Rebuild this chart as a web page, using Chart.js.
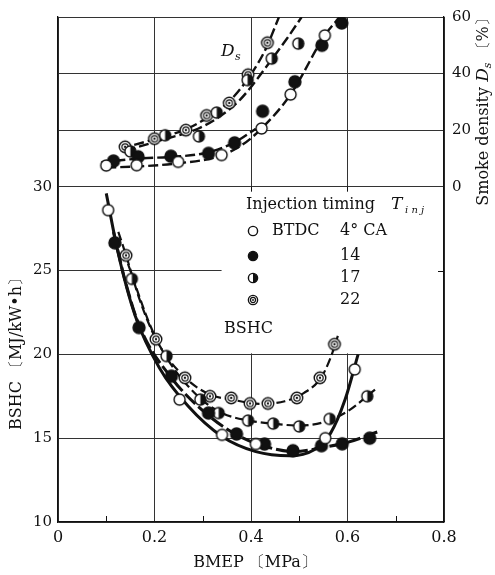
<!DOCTYPE html>
<html lang="en">
<head>
<meta charset="UTF-8">
<title>BSHC and smoke density vs BMEP</title>
<script src="https://cdn.jsdelivr.net/npm/chart.js"></script>
<style>
  body { margin: 0; background: #fff; }
  #wrap { width: 495px; height: 575px; position: relative; }
</style>
</head>
<body>
<div id="wrap"><canvas id="chart"></canvas></div>
<script>
// axis ticks
const xTicks = [0, 0.2, 0.4, 0.6, 0.8];
const bshcTicks = [10, 15, 20, 25, 30];
const smokeTicks = [0, 20, 40, 60];
const minorX = [0.1, 0.3, 0.5, 0.7];

// injection timing (BTDC, deg CA)
const timings = ['4', '14', '17', '22'];

// smoke density Ds [%] : measured points [BMEP, Ds]
const smoke4  = [[0.10,7.5],[0.163,7.6],[0.249,8.8],[0.339,11.2],[0.422,20.6],[0.482,32.6],[0.553,53.5]];
const smoke14 = [[0.115,9.1],[0.166,10.6],[0.234,10.8],[0.312,11.8],[0.366,15.5],[0.424,26.7],[0.491,37.1],[0.547,50.0],[0.588,57.9]];
const smoke17 = [[0.15,12.5],[0.222,18.2],[0.292,17.8],[0.329,26.2],[0.393,37.7],[0.443,45.3],[0.498,50.6]];
const smoke22 = [[0.139,14.1],[0.200,17.0],[0.265,20.0],[0.308,25.2],[0.355,29.6],[0.394,39.6],[0.434,50.9]];

// smoke density : hand-drawn trend curves
const smokeFit4  = [[0.10,6.8],[0.17,7.2],[0.25,8.3],[0.33,10.6],[0.38,14.6],[0.422,20.6],[0.482,32.6],[0.553,53.5],[0.584,60]];
const smokeFit14 = [[0.09,8.7],[0.17,10.0],[0.24,10.6],[0.31,12.1],[0.365,15.6],[0.41,20.5]];
const smokeFit17 = [[0.14,12.8],[0.22,16.8],[0.29,20.5],[0.335,24.8],[0.377,30.7],[0.443,45],[0.475,52.5],[0.505,60]];
const smokeFit22 = [[0.13,13.5],[0.20,16.8],[0.265,20.3],[0.31,24.5],[0.355,30.2],[0.395,38.5],[0.43,48.5],[0.458,60]];

// BSHC [MJ/kW.h] : measured points [BMEP, BSHC]
const bshc4  = [[0.104,28.6],[0.252,17.3],[0.340,15.2],[0.41,14.65],[0.554,15.0],[0.615,19.1]];
const bshc14 = [[0.118,26.65],[0.168,21.6],[0.235,18.7],[0.312,16.5],[0.370,15.25],[0.428,14.65],[0.487,14.25],[0.546,14.55],[0.589,14.66],[0.646,15.0]];
const bshc17 = [[0.153,24.5],[0.225,19.9],[0.295,17.3],[0.333,16.5],[0.394,16.05],[0.446,15.87],[0.50,15.7],[0.563,16.15],[0.641,17.5]];
const bshc22 = [[0.141,25.9],[0.203,20.9],[0.263,18.6],[0.315,17.5],[0.359,17.4],[0.398,17.07],[0.435,17.07],[0.495,17.4],[0.543,18.6],[0.573,20.6]];

// BSHC : trend curves
const bshcFit4  = [[0.10,29.6],[0.125,26.0],[0.16,22.3],[0.21,19.2],[0.27,16.9],[0.34,15.1],[0.41,14.2],[0.48,13.95],[0.53,14.3],[0.565,15.3],[0.595,17.3],[0.622,20.0]];
const bshcFit14 = [[0.115,27.3],[0.14,24.3],[0.17,21.6],[0.235,18.6],[0.31,16.4],[0.37,15.2],[0.43,14.5],[0.49,14.2],[0.55,14.45],[0.60,14.75],[0.665,15.4]];
const bshcFit17 = [[0.145,25.4],[0.19,21.8],[0.225,19.8],[0.29,17.5],[0.34,16.5],[0.395,16.05],[0.45,15.85],[0.50,15.75],[0.55,15.95],[0.60,16.6],[0.657,17.9]];
const bshcFit22 = [[0.125,27.3],[0.14,26.0],[0.17,23.2],[0.205,20.8],[0.26,18.7],[0.315,17.6],[0.36,17.3],[0.42,17.05],[0.47,17.2],[0.51,17.7],[0.545,18.6],[0.565,19.8],[0.58,21.1]];

const INK = '#111';
const SERIF = '"DejaVu Serif", "Liberation Serif", serif';

// draw one marker (open / filled / half / ring) on a context
function paintMarker(g, kind, cx, cy, r) {
  g.save();
  g.lineWidth = 1.4;
  g.strokeStyle = INK;
  g.fillStyle = kind === 'filled' ? INK : '#fff';
  g.beginPath();
  g.arc(cx, cy, r, 0, Math.PI * 2);
  g.fill();
  if (kind === 'half') {
    g.fillStyle = INK;
    g.beginPath();
    g.moveTo(cx, cy);
    g.arc(cx, cy, r, -Math.PI / 2, Math.PI / 2);
    g.closePath();
    g.fill();
  }
  g.beginPath();
  g.arc(cx, cy, r, 0, Math.PI * 2);
  g.stroke();
  if (kind === 'ring') {
    g.lineWidth = 1.2;
    g.beginPath();
    g.arc(cx, cy, r * 0.55, 0, Math.PI * 2);
    g.stroke();
    g.fillStyle = INK;
    g.beginPath();
    g.arc(cx, cy, r * 0.2, 0, Math.PI * 2);
    g.fill();
  }
  g.restore();
}

function markerImage(kind, r) {
  const size = Math.ceil(r * 2 + 4);
  const c = document.createElement('canvas');
  c.width = size;
  c.height = size;
  paintMarker(c.getContext('2d'), kind, size / 2, size / 2, r);
  return c;
}

const kinds = ['open', 'filled', 'half', 'ring'];
const imgs = {
  open: markerImage('open', 5.5),
  filled: markerImage('filled', 6),
  half: markerImage('half', 5.5),
  ring: markerImage('ring', 5.8)
};

const toXY = arr => arr.map(p => ({ x: p[0], y: p[1] }));

function pointSet(arr, kind, axis) {
  return {
    data: toXY(arr), yAxisID: axis, showLine: false,
    pointStyle: imgs[kind], pointRadius: 6, order: 1
  };
}

function curveSet(arr, axis, width, dash) {
  return {
    data: toXY(arr), yAxisID: axis, showLine: true,
    borderColor: INK, borderWidth: width, borderDash: dash,
    cubicInterpolationMode: 'monotone',
    pointRadius: 0, order: 2
  };
}

// text helper: draws runs of differently styled text, centred on 0
function drawRuns(ctx, runs) {
  let total = 0;
  runs.forEach(r => { ctx.font = r.font; total += ctx.measureText(r.t).width; });
  let x = -total / 2;
  runs.forEach(r => {
    ctx.font = r.font;
    ctx.fillText(r.t, x, r.dy || 0);
    x += ctx.measureText(r.t).width;
  });
}

const decorations = {
  id: 'decorations',
  beforeDatasetsDraw(chart) {
    const ctx = chart.ctx;
    const { x, y } = chart.scales;
    const area = chart.chartArea;
    // white legend panel masking the grid
    const left = x.getPixelForValue(0.339);
    const top = y.getPixelForValue(30) + 1;
    const bottom = y.getPixelForValue(20) - 1;
    ctx.save();
    ctx.fillStyle = '#fff';
    ctx.fillRect(left, top, area.right - 1 - left, bottom - top);
    ctx.restore();
  },
  afterDraw(chart) {
    const ctx = chart.ctx;
    const { x, y } = chart.scales;
    const area = chart.chartArea;
    ctx.save();
    ctx.strokeStyle = INK;
    ctx.lineWidth = 1;
    // minor ticks along the BMEP axis
    minorX.forEach(v => {
      const px = Math.round(x.getPixelForValue(v)) + 0.5;
      ctx.beginPath();
      ctx.moveTo(px, area.bottom);
      ctx.lineTo(px, area.bottom - 6);
      ctx.stroke();
    });
    // short ticks where the legend panel hides grid lines
    [0.4, 0.6].forEach(v => {
      const px = Math.round(x.getPixelForValue(v)) + 0.5;
      const py = y.getPixelForValue(30);
      ctx.beginPath();
      ctx.moveTo(px, py);
      ctx.lineTo(px, py + 5);
      ctx.stroke();
    });
    const py25 = Math.round(y.getPixelForValue(25)) + 0.5;
    ctx.beginPath();
    ctx.moveTo(area.right, py25);
    ctx.lineTo(area.right - 6, py25);
    ctx.stroke();

    ctx.fillStyle = INK;
    ctx.textBaseline = 'middle';
    ctx.textAlign = 'left';

    // legend
    ctx.font = '16px ' + SERIF;
    ctx.fillText('Injection timing', 246, 205);
    ctx.font = 'italic 17px ' + SERIF;
    ctx.fillText('T', 391, 205);
    ctx.font = 'italic 10px ' + SERIF;
    ctx.fillText('i n j', 405, 210);
    const rowsY = [231, 256, 278, 300];
    kinds.forEach((k, i) => {
      paintMarker(ctx, k, 253, rowsY[i], 4.6);
      ctx.font = '16px ' + SERIF;
      if (i === 0) {
        ctx.fillText('BTDC', 272, rowsY[i]);
        ctx.fillText(timings[i] + '° CA', 340, rowsY[i]);
      } else {
        ctx.fillText(timings[i], 340, rowsY[i]);
      }
    });
    ctx.font = '16px ' + SERIF;
    ctx.fillText('BSHC', 224, 329);

    // Ds curve label
    ctx.font = 'italic 17px ' + SERIF;
    ctx.fillText('D', 221, 52);
    ctx.font = 'italic 11px ' + SERIF;
    ctx.fillText('s', 235, 57);

    // axis titles
    ctx.textAlign = 'left';
    ctx.save();
    ctx.translate(255, 563);
    drawRuns(ctx, [{ t: 'BMEP 〔MPa〕', font: '16px ' + SERIF }]);
    ctx.restore();

    ctx.save();
    ctx.translate(17, 350);
    ctx.rotate(-Math.PI / 2);
    drawRuns(ctx, [{ t: 'BSHC 〔MJ/kW•h〕', font: '16px ' + SERIF }]);
    ctx.restore();

    ctx.save();
    ctx.translate(484, 108);
    ctx.rotate(-Math.PI / 2);
    drawRuns(ctx, [
      { t: 'Smoke density ', font: '16px ' + SERIF },
      { t: 'D', font: 'italic 17px ' + SERIF },
      { t: 's', font: 'italic 11px ' + SERIF, dy: 4 },
      { t: ' 〔%〕', font: '16px ' + SERIF }
    ]);
    ctx.restore();
    ctx.restore();
  }
};

const gridColor = '#333';

new Chart(document.getElementById('chart'), {
  type: 'scatter',
  data: {
    datasets: [
      pointSet(smoke4, 'open', 'yD'),
      pointSet(smoke14, 'filled', 'yD'),
      pointSet(smoke17, 'half', 'yD'),
      pointSet(smoke22, 'ring', 'yD'),
      pointSet(bshc4, 'open', 'y'),
      pointSet(bshc14, 'filled', 'y'),
      pointSet(bshc17, 'half', 'y'),
      pointSet(bshc22, 'ring', 'y'),
      curveSet(smokeFit4, 'yD', 2.4, [10, 4]),
      curveSet(smokeFit14, 'yD', 2.4, [10, 4]),
      curveSet(smokeFit17, 'yD', 2.4, [10, 4]),
      curveSet(smokeFit22, 'yD', 2.4, [10, 4]),
      curveSet(bshcFit4, 'y', 3, []),
      curveSet(bshcFit14, 'y', 3, [14, 4]),
      curveSet(bshcFit17, 'y', 2.2, [9, 4]),
      curveSet(bshcFit22, 'y', 2.2, [9, 4])
    ]
  },
  options: {
    responsive: true,
    maintainAspectRatio: false,
    animation: false,
    layout: { padding: { top: 15, left: 0, right: 0, bottom: 0 } },
    plugins: { legend: { display: false }, tooltip: { enabled: false } },
    scales: {
      x: {
        type: 'linear', min: 0, max: 0.8,
        afterBuildTicks: s => { s.ticks = xTicks.map(v => ({ value: v })); },
        afterFit: s => { s.height = 53; },
        ticks: {
          callback: v => (v === 0 ? '0' : v.toFixed(1)),
          font: { family: SERIF, size: 16 }, color: INK, padding: 6,
          autoSkip: false, maxRotation: 0
        },
        grid: { color: gridColor, lineWidth: 1, drawTicks: false },
        border: { color: INK, width: 1.3 }
      },
      y: {
        type: 'linear', position: 'left', min: 10, max: 40.12,
        afterBuildTicks: s => { s.ticks = bshcTicks.map(v => ({ value: v })); },
        afterFit: s => { s.width = 58; },
        ticks: { font: { family: SERIF, size: 15 }, color: INK, padding: 6 },
        grid: { color: gridColor, lineWidth: 1, drawTicks: false },
        border: { color: INK, width: 1.3 }
      },
      yD: {
        type: 'linear', position: 'right', min: -118.5, max: 60,
        afterBuildTicks: s => { s.ticks = smokeTicks.map(v => ({ value: v })); },
        afterFit: s => { s.width = 51; },
        ticks: { font: { family: SERIF, size: 15 }, color: INK, padding: 8 },
        grid: { color: gridColor, lineWidth: 1, drawTicks: false },
        border: { color: INK, width: 1.3 }
      }
    }
  },
  plugins: [decorations]
});
</script>
</body>
</html>
